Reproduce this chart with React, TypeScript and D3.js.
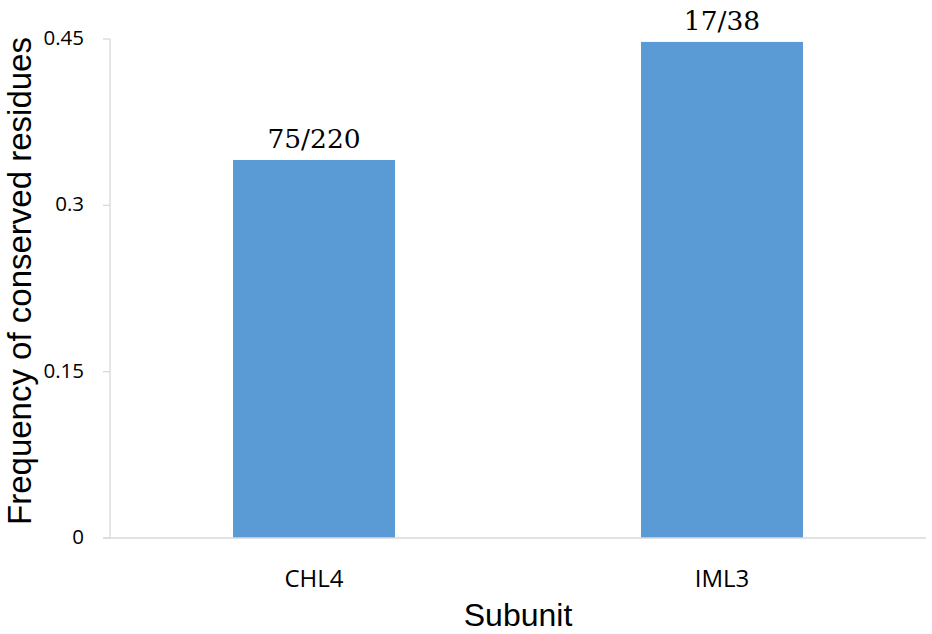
import * as d3 from "d3";

const subunits = ["CHL4", "IML3"];
const frequencies = [75 / 220, 17 / 38];
const barLabels = ["75/220", "17/38"];
const yTicks = [0, 0.15, 0.3, 0.45];
const yTickLabels = ["0", "0.15", "0.3", "0.45"];

export default function App() {
  const width = 932;
  const height = 634;
  const margin = { top: 39, right: 6, bottom: 96, left: 110 };

  const x = d3
    .scaleBand<string>()
    .domain(subunits)
    .range([margin.left, width - margin.right])
    .paddingInner(0.603)
    .paddingOuter(0.3015);

  const y = d3
    .scaleLinear()
    .domain([0, 0.45])
    .range([height - margin.bottom, margin.top]);

  const axisColor = "#d9d9d9";

  return (
    <div style={{ position: "absolute", left: 0, top: 0 }}>
      <svg width={width} height={height} style={{ display: "block", background: "#fff" }}>
        {/* y axis */}
        <line
          x1={margin.left}
          x2={margin.left}
          y1={y(0.45)}
          y2={y(0)}
          stroke={axisColor}
          strokeWidth={1.3}
        />
        {yTicks.map((t, i) => (
          <g key={t}>
            <line
              x1={margin.left - 7}
              x2={margin.left}
              y1={y(t)}
              y2={y(t)}
              stroke={axisColor}
              strokeWidth={1.3}
            />
            <text
              x={84}
              y={y(t) + 6}
              textAnchor="end"
              fontFamily="'Open Sans', sans-serif"
              fontSize={20.5}
              fill="#000"
            >
              {yTickLabels[i]}
            </text>
          </g>
        ))}

        {/* bars */}
        {subunits.map((s, i) => (
          <g key={s}>
            <rect
              x={x(s)}
              y={y(frequencies[i])}
              width={x.bandwidth()}
              height={y(0) - y(frequencies[i])}
              fill="#5b9bd5"
            />
            <text
              x={(x(s) as number) + x.bandwidth() / 2}
              y={y(frequencies[i]) - 12}
              textAnchor="middle"
              fontFamily="'DejaVu Serif', serif"
              fontSize={26.5}
              fill="#000"
            >
              {barLabels[i]}
            </text>
            <text
              x={(x(s) as number) + x.bandwidth() / 2}
              y={587}
              textAnchor="middle"
              fontFamily="'Open Sans', sans-serif"
              fontSize={24}
              fill="#000"
            >
              {s}
            </text>
          </g>
        ))}

        {/* x axis baseline */}
        <line
          x1={margin.left - 7}
          x2={width - margin.right}
          y1={y(0)}
          y2={y(0)}
          stroke={axisColor}
          strokeWidth={1.3}
        />

        {/* axis titles */}
        <text
          x={518}
          y={626}
          textAnchor="middle"
          fontFamily="'Liberation Sans', Arial, sans-serif"
          fontSize={32}
          fill="#000"
        >
          Subunit
        </text>
        <text
          transform={`translate(31, 281) rotate(-90)`}
          textAnchor="middle"
          fontFamily="'Liberation Sans', Arial, sans-serif"
          fontSize={33}
          fill="#000"
        >
          Frequency of conserved residues
        </text>
      </svg>
    </div>
  );
}
